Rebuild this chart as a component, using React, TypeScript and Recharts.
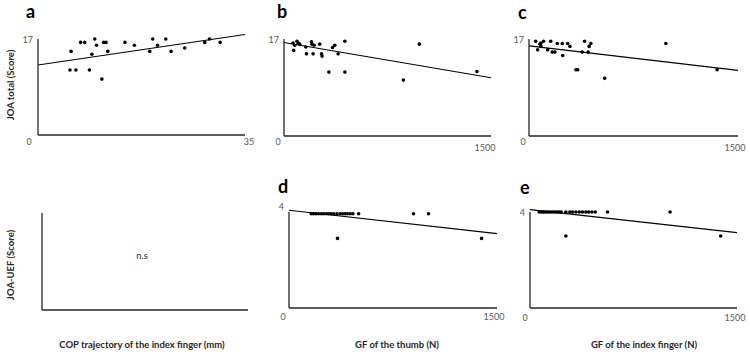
import React from 'react';
import { ScatterChart, Scatter, XAxis, YAxis, ReferenceLine } from 'recharts';

// panel a: COP trajectory (mm) vs JOA total
const copTrajectoryA = [5.6, 5.4, 6.4, 7.2, 7.9, 8.7, 9.1, 9.6, 9.9, 10.8, 11.1, 11.5, 11.8, 14.7, 16.3, 18.9, 19.4, 20.2, 21.6, 22.5, 24.8, 28.2, 29.0, 30.8];
const joaTotalA = [14.8, 11.5, 11.5, 16.4, 16.4, 11.5, 14.3, 17, 15.9, 9.9, 16.4, 16.4, 14.8, 16.4, 15.9, 14.8, 17, 15.9, 17, 14.8, 15.4, 16.4, 17, 16.4];
const fitA = [12.4, 17.8];

// panel b: GF of the thumb vs JOA total
const gfThumbB = [65, 78, 70, 94, 102, 114, 158, 163, 199, 203, 211, 218, 259, 272, 276, 352, 368, 392, 441, 325, 441, 981, 865, 1398];
const joaTotalB = [16.3, 15.9, 15.0, 16.6, 16.3, 16.1, 15.6, 14.4, 16.5, 16.1, 14.4, 15.9, 16.1, 14.4, 14.0, 15.5, 15.9, 14.4, 16.6, 11.2, 11.2, 16.1, 9.8, 11.3];
const fitB = [16.4, 10.2];

// panel c: GF of the index finger vs JOA total
const gfIndexC = [48, 62, 79, 86, 86, 105, 134, 156, 167, 186, 203, 239, 242, 277, 294, 337, 349, 382, 399, 425, 432, 444, 543, 982, 1350];
const joaTotalC = [16.6, 15.1, 16.1, 16.3, 15.7, 16.6, 15.1, 16.6, 14.7, 14.7, 16.2, 16.2, 14.1, 16.2, 15.7, 11.6, 11.6, 14.7, 16.6, 14.7, 15.7, 16.2, 10.1, 16.2, 11.6];
const fitC = [15.8, 11.5];

// panel d: GF of the thumb vs JOA-UEF
const gfThumbD = [161, 177, 195, 213, 233, 249, 269, 285, 303, 322, 346, 370, 389, 406, 422, 441, 461, 502, 898, 1006, 350, 1389];
const joaUefD = [3.93, 3.93, 3.93, 3.93, 3.93, 3.93, 3.93, 3.93, 3.93, 3.93, 3.93, 3.93, 3.93, 3.93, 3.93, 3.93, 3.93, 3.93, 3.93, 3.93, 2.9, 2.9];
const fitD = [4.07, 3.1];

// panel e: GF of the index finger vs JOA-UEF
const gfIndexE = [67, 82, 96, 110, 125, 139, 154, 168, 183, 197, 212, 226, 260, 289, 309, 333, 357, 381, 405, 425, 449, 473, 562, 1015, 260, 1382];
const joaUefE = [4, 4, 4, 4, 4, 4, 4, 4, 4, 4, 4, 4, 4, 4, 4, 4, 4, 4, 4, 4, 4, 4, 4, 4, 3, 3];
const fitE = [4.1, 3.14];

const FONT = 'Lato, "Open Sans", sans-serif';
const AXIS = '#262626';
const TICK = '#595959';
const TITLE = '#262626';

const toPoints = (xs: number[], ys: number[]) => xs.map((x, i) => ({ x, y: ys[i] }));

const Dot = (p: any) => <circle cx={p.cx} cy={p.cy} r={1.8} fill="#000" />;

type Rect = { x0: number; y0: number; x1: number; y1: number };

const XTick = (props: any) => {
  const { x, y, payload, index, offsets } = props;
  const [dx, dy] = offsets[index] || [0, 0];
  return (
    <text x={x + dx} y={y + dy} textAnchor="middle" dominantBaseline="central" fill={TICK} fontSize={9} fontFamily={FONT}>
      {payload.value}
    </text>
  );
};

const YTick = (props: any) => {
  const { x, y, payload, dy } = props;
  return (
    <text x={x} y={y + dy} textAnchor="end" dominantBaseline="central" fill={TICK} fontSize={9} fontFamily={FONT}>
      {payload.value}
    </text>
  );
};

interface PanelProps {
  rect: Rect;
  xMax?: number;
  yMax?: number;
  points?: { x: number; y: number }[];
  fit?: number[];
  xOffsets?: number[][];
  yDy?: number;
}

const Panel = ({ rect, xMax = 1, yMax = 1, points, fit, xOffsets, yDy = 0 }: PanelProps) => {
  const padL = 30;
  const padT = 12;
  const padR = 18;
  const padB = 25;
  const width = rect.x1 - rect.x0 + padL + padR;
  const height = rect.y1 - rect.y0 + padT + padB;
  const showTicks = !!points;
  return (
    <div style={{ position: 'absolute', left: rect.x0 - padL, top: rect.y0 - padT }}>
      <ScatterChart width={width} height={height} margin={{ top: padT, right: padR, bottom: 0, left: 0 }}>
        <XAxis
          type="number"
          dataKey="x"
          domain={[0, xMax]}
          ticks={showTicks ? [0, xMax] : []}
          tick={showTicks ? (p: any) => <XTick {...p} offsets={xOffsets} /> : false}
          tickLine={false}
          tickSize={0}
          tickMargin={0}
          height={padB}
          axisLine={{ stroke: AXIS, strokeWidth: 1.3 }}
        />
        <YAxis
          type="number"
          dataKey="y"
          domain={[0, yMax]}
          ticks={showTicks ? [yMax] : []}
          tick={showTicks ? (p: any) => <YTick {...p} dy={yDy} /> : false}
          tickLine={false}
          tickSize={0}
          tickMargin={5}
          width={padL}
          axisLine={{ stroke: AXIS, strokeWidth: 1.3 }}
        />
        {fit && (
          <ReferenceLine
            segment={[{ x: 0, y: fit[0] }, { x: xMax, y: fit[1] }]}
            stroke="#000"
            strokeWidth={1.1}
            ifOverflow="visible"
          />
        )}
        <Scatter data={points || []} shape={Dot} isAnimationActive={false} />
      </ScatterChart>
    </div>
  );
};

const textBase: React.CSSProperties = {
  position: 'absolute',
  fontFamily: FONT,
  whiteSpace: 'nowrap',
  lineHeight: 1,
};

const Letter = ({ x, y, children }: { x: number; y: number; children: string }) => (
  <div style={{ ...textBase, left: x, top: y, fontSize: 18, fontWeight: 700, color: '#000' }}>{children}</div>
);

const XTitle = ({ cx, cy, children }: { cx: number; cy: number; children: string }) => (
  <div style={{ ...textBase, left: cx, top: cy, transform: 'translate(-50%, -50%)', fontSize: 9.5, fontWeight: 700, color: TITLE }}>
    {children}
  </div>
);

const YTitle = ({ cx, cy, children }: { cx: number; cy: number; children: string }) => (
  <div
    style={{
      ...textBase,
      left: cx,
      top: cy,
      transform: 'translate(-50%, -50%) rotate(-90deg)',
      fontSize: 9.5,
      fontWeight: 700,
      color: TITLE,
    }}
  >
    {children}
  </div>
);

export default function App() {
  return (
    <div style={{ position: 'absolute', left: 0, top: 0, width: 750, height: 354, background: '#fff', overflow: 'hidden' }}>
      <Panel
        rect={{ x0: 38, y0: 39, x1: 245, y1: 135 }}
        xMax={35}
        yMax={17}
        points={toPoints(copTrajectoryA, joaTotalA)}
        fit={fitA}
        xOffsets={[[-9, 6], [4, 6]]}
      />
      <Panel
        rect={{ x0: 284, y0: 39, x1: 491, y1: 136 }}
        xMax={1500}
        yMax={17}
        points={toPoints(gfThumbB, joaTotalB)}
        fit={fitB}
        xOffsets={[[-6, 5], [-6, 11]]}
      />
      <Panel
        rect={{ x0: 529, y0: 39, x1: 738, y1: 136 }}
        xMax={1500}
        yMax={17}
        points={toPoints(gfIndexC, joaTotalC)}
        fit={fitC}
        xOffsets={[[-6, 5], [-3, 11]]}
      />
      <Panel rect={{ x0: 42, y0: 213, x1: 248, y1: 310 }} />
      <Panel
        rect={{ x0: 289, y0: 212, x1: 497, y1: 308 }}
        xMax={1500}
        yMax={4}
        points={toPoints(gfThumbD, joaUefD)}
        fit={fitD}
        xOffsets={[[-6, 8.5], [-3, 8.5]]}
        yDy={-6}
      />
      <Panel
        rect={{ x0: 530, y0: 212, x1: 737, y1: 308 }}
        xMax={1500}
        yMax={4}
        points={toPoints(gfIndexE, joaUefE)}
        fit={fitE}
        xOffsets={[[-5, 9], [-2, 9]]}
      />

      <Letter x={26} y={2}>a</Letter>
      <Letter x={277} y={2}>b</Letter>
      <Letter x={518} y={3}>c</Letter>
      <Letter x={278} y={177}>d</Letter>
      <Letter x={520} y={178}>e</Letter>

      <div style={{ ...textBase, left: 142, top: 256, transform: 'translate(-50%, -50%)', fontSize: 9.5, color: TITLE }}>n.s</div>

      <YTitle cx={11} cy={85}>JOA total (Score)</YTitle>
      <YTitle cx={11} cy={265}>JOA-UEF (Score)</YTitle>
      <XTitle cx={142} cy={345}>COP trajectory of the index finger (mm)</XTitle>
      <XTitle cx={397} cy={345}>GF of the thumb (N)</XTitle>
      <XTitle cx={644} cy={345}>GF of the index finger (N)</XTitle>
    </div>
  );
}
